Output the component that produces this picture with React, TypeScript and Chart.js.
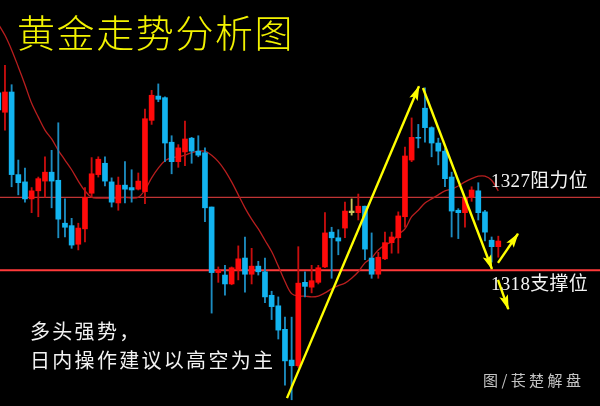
import React, { useEffect, useRef } from "react";
import { Chart, registerables } from "chart.js";

Chart.register(...registerables);

// ---- data (gold price candles) ----
const opens = [1339.9, 1337.5, 1340.0, 1329.8, 1328.9, 1326.8, 1327.8, 1329.0, 1330.1, 1329.1,
  1323.8, 1323.5, 1321.2, 1323.1, 1327.5, 1329.8, 1331.2, 1328.9, 1326.3, 1328.5,
  1328.2, 1328.0, 1327.7, 1336.5, 1339.5, 1339.3, 1333.8, 1331.4, 1332.6, 1334.3,
  1332.7, 1332.5, 1325.8, 1317.7, 1317.4, 1316.3, 1318.0, 1319.5, 1317.5, 1318.5,
  1317.8, 1314.9, 1313.6, 1310.7, 1306.9, 1306.2, 1316.5, 1315.9, 1316.5, 1318.4,
  1322.7, 1322.0, 1323.2, 1325.3, 1325.1, 1325.9, 1319.5, 1317.5, 1319.4, 1321.4,
  1322.0, 1324.6, 1331.6, 1334.4, 1338.0, 1335.6, 1333.7, 1332.7, 1329.5, 1325.4,
  1325.1, 1327.0, 1327.8, 1325.2, 1321.7, 1320.9];
const highs = [1340.5, 1343.3, 1340.9, 1331.6, 1330.6, 1328.2, 1329.5, 1332.0, 1332.8, 1336.2,
  1326.8, 1324.4, 1323.8, 1328.2, 1331.9, 1332.0, 1332.0, 1329.4, 1329.5, 1331.4,
  1330.4, 1330.0, 1337.9, 1340.2, 1341.0, 1339.4, 1334.6, 1333.5, 1336.4, 1334.4,
  1334.6, 1333.1, 1325.8, 1318.4, 1318.6, 1318.4, 1321.0, 1322.1, 1320.7, 1319.1,
  1319.5, 1315.4, 1314.7, 1312.2, 1312.2, 1320.9, 1317.8, 1318.6, 1318.6, 1325.1,
  1323.3, 1323.0, 1326.4, 1326.8, 1327.4, 1325.9, 1322.6, 1320.2, 1322.7, 1322.7,
  1325.2, 1333.2, 1336.8, 1336.0, 1340.5, 1335.7, 1334.3, 1333.0, 1330.1, 1325.6,
  1327.0, 1328.3, 1328.8, 1325.4, 1322.1, 1322.2];
const lows = [1337.2, 1335.3, 1328.3, 1327.3, 1326.4, 1325.1, 1324.6, 1327.0, 1325.7, 1322.0,
  1322.1, 1320.7, 1320.5, 1321.5, 1327.0, 1329.5, 1328.4, 1325.8, 1325.4, 1326.3,
  1326.4, 1327.9, 1326.2, 1336.0, 1338.8, 1331.4, 1329.9, 1330.7, 1330.9, 1331.2,
  1332.0, 1324.0, 1312.7, 1316.5, 1314.9, 1316.2, 1316.8, 1315.3, 1316.3, 1317.4,
  1314.0, 1311.9, 1309.5, 1303.8, 1302.0, 1306.0, 1314.7, 1315.2, 1316.3, 1318.3,
  1317.0, 1319.9, 1322.0, 1324.8, 1324.2, 1319.3, 1317.0, 1317.0, 1319.3, 1320.1,
  1320.1, 1323.3, 1331.4, 1333.1, 1333.8, 1332.0, 1331.0, 1328.3, 1322.1, 1321.9,
  1323.3, 1326.5, 1324.2, 1321.6, 1319.0, 1319.6];
const closes = [1337.8, 1340.0, 1329.8, 1328.8, 1326.8, 1327.8, 1329.3, 1330.1, 1329.0, 1324.3,
  1323.3, 1321.1, 1323.2, 1327.0, 1329.9, 1331.7, 1329.0, 1326.4, 1328.5, 1328.0,
  1327.9, 1329.0, 1336.7, 1339.6, 1339.1, 1333.7, 1331.4, 1333.1, 1334.2, 1332.7,
  1332.2, 1325.7, 1317.7, 1318.0, 1316.3, 1318.3, 1319.4, 1317.5, 1318.5, 1317.8,
  1314.7, 1313.5, 1310.6, 1306.8, 1306.2, 1316.4, 1316.0, 1316.7, 1318.3, 1322.6,
  1322.0, 1321.6, 1325.3, 1325.1, 1325.9, 1320.6, 1317.5, 1319.6, 1321.4, 1322.1,
  1324.7, 1332.1, 1334.4, 1334.3, 1335.6, 1333.7, 1332.7, 1329.3, 1325.3, 1325.1,
  1326.9, 1327.9, 1325.1, 1322.7, 1320.9, 1321.6];
// moving average line
const movingAvg = [1348.4, 1347.0, 1345.2, 1343.1, 1340.9, 1338.6, 1336.9, 1335.3, 1334.2, 1332.8,
  1331.6, 1330.4, 1329.0, 1327.8, 1327.0, 1326.9, 1326.9, 1326.9, 1326.9, 1327.0,
  1326.9, 1327.0, 1327.9, 1329.4, 1330.6, 1331.5, 1331.9, 1332.0, 1332.2, 1332.5,
  1332.7, 1332.7, 1332.2, 1331.4, 1330.3, 1328.9, 1327.3, 1325.7, 1324.3, 1323.1,
  1321.7, 1320.3, 1318.5, 1316.6, 1315.1, 1314.8, 1314.8, 1314.7, 1314.8, 1315.2,
  1315.7, 1316.1, 1316.4, 1317.0, 1317.8, 1318.9, 1319.5, 1320.5, 1321.1, 1321.5,
  1322.4, 1323.1, 1324.6, 1325.4, 1326.3, 1326.8, 1327.3, 1327.8, 1328.0, 1328.4,
  1328.9, 1329.3, 1329.6, 1329.6, 1329.1, 1327.8];
const highlightedCandles = [53];
// levels
const resistanceLevel = 1327;
const supportLevel = 1318;
// trend arrows: [x index, price]
const arrowRiseX = [43.3, 63.1];
const arrowRiseY = [1302.2, 1340.7];
const arrowFallX = [63.7, 74.05];
const arrowFallY = [1340.5, 1318.15];
const arrowBounceX = [74.95, 77.95];
const arrowBounceY = [1318.9, 1322.5];
const arrowBreakX = [74.95, 76.5];
const arrowBreakY = [1316.8, 1313.2];
// texts
const titleText = "黄金走势分析图";
const resistanceLabel = "1327阻力位";
const supportLabel = "1318支撑位";
const commentLines = ["多头强势，", "日内操作建议以高空为主"];
const sourceText = "图/苌楚解盘";

const X_MIN = 0.255;
const X_MAX = 90.255;
const Y_MIN = 1301.23;
const Y_MAX = 1351.36;

const RED = "#ff0a0a";
const BLUE = "#12b4f0";
const RED_WICK = "#c80e0e";
const BLUE_WICK = "#1c8cc0";
const OLIVE = "#c8c860";
const YELLOW = "#ffff00";

const arrowHeads = {
  id: "arrowHeads",
  afterDatasetsDraw(chart: any) {
    const ctx = chart.ctx;
    chart.data.datasets.forEach((ds: any, di: number) => {
      if (!ds.isArrow) return;
      const pts = chart.getDatasetMeta(di).data;
      if (pts.length < 2) return;
      const a = pts[pts.length - 2];
      const b = pts[pts.length - 1];
      const ang = Math.atan2(b.y - a.y, b.x - a.x);
      ctx.save();
      ctx.fillStyle = ds.borderColor;
      ctx.translate(b.x, b.y);
      ctx.rotate(ang);
      ctx.beginPath();
      ctx.moveTo(1, 0);
      ctx.lineTo(-14, -4.5);
      ctx.lineTo(-11, 0);
      ctx.lineTo(-14, 4.5);
      ctx.closePath();
      ctx.fill();
      ctx.restore();
    });
  },
};

export default function App() {
  const ref = useRef<HTMLCanvasElement | null>(null);

  useEffect(() => {
    if (!ref.current) return;
    const idx = opens.map((_, i) => i);
    const isUp = (i: number) => closes[i] >= opens[i];
    const bodyColors = idx.map((i) =>
      highlightedCandles.includes(i) ? OLIVE : isUp(i) ? RED : BLUE
    );
    const wickColors = idx.map((i) =>
      highlightedCandles.includes(i) ? OLIVE : isUp(i) ? RED_WICK : BLUE_WICK
    );
    const arrowDs = (xs: number[], ys: number[]) => ({
      type: "line" as const,
      data: xs.map((x, i) => ({ x, y: ys[i] })),
      borderColor: YELLOW,
      borderWidth: 2.4,
      pointRadius: 0,
      fill: false,
      tension: 0,
      order: 1,
      isArrow: true,
    });
    const chart = new Chart(ref.current, {
      type: "bar",
      data: {
        datasets: [
          {
            type: "line",
            data: [
              { x: X_MIN, y: resistanceLevel },
              { x: X_MAX, y: resistanceLevel },
            ],
            borderColor: "#c03434",
            borderWidth: 1.3,
            pointRadius: 0,
            order: 7,
          },
          {
            type: "line",
            data: [
              { x: X_MIN, y: supportLevel },
              { x: X_MAX, y: supportLevel },
            ],
            borderColor: "#ff3a3a",
            borderWidth: 2,
            pointRadius: 0,
            order: 7,
          },
          {
            type: "line",
            data: idx.map((i) => ({ x: i, y: movingAvg[i] })),
            borderColor: "#b81e1e",
            borderWidth: 1.3,
            pointRadius: 0,
            tension: 0.35,
            order: 6,
          },
          {
            type: "bar",
            data: idx.map((i) => ({ x: i, y: [lows[i], highs[i]] })),
            backgroundColor: wickColors,
            barThickness: 1.2,
            grouped: false,
            order: 4,
          } as any,
          {
            type: "bar",
            data: idx.map((i) => ({
              x: i,
              y: [Math.min(opens[i], closes[i]), Math.max(opens[i], closes[i])],
            })),
            backgroundColor: bodyColors,
            barThickness: 5,
            grouped: false,
            order: 3,
          } as any,
          arrowDs(arrowRiseX, arrowRiseY) as any,
          arrowDs(arrowFallX, arrowFallY) as any,
          arrowDs(arrowBounceX, arrowBounceY) as any,
          arrowDs(arrowBreakX, arrowBreakY) as any,
        ],
      },
      options: {
        animation: false,
        responsive: false,
        maintainAspectRatio: false,
        layout: { padding: 0 },
        plugins: {
          legend: { display: false },
          tooltip: { enabled: false },
          title: { display: false },
        },
        scales: {
          x: { type: "linear", min: X_MIN, max: X_MAX, display: false, offset: false },
          y: { type: "linear", min: Y_MIN, max: Y_MAX, display: false },
        },
      },
      plugins: [arrowHeads],
    } as any);
    return () => chart.destroy();
  }, []);

  const cjk = '"Noto Sans CJK SC", "Noto Sans", sans-serif';
  const serif = '"Liberation Serif", "DejaVu Serif", "Noto Sans CJK SC", serif';

  return (
    <div
      style={{
        position: "fixed",
        left: 0,
        top: 0,
        width: 600,
        height: 406,
        background: "#000",
        overflow: "hidden",
      }}
    >
      <canvas
        ref={ref}
        width={600}
        height={406}
        style={{ position: "absolute", left: 0, top: 0, width: 600, height: 406 }}
      />
      <div
        style={{
          position: "absolute",
          left: 17,
          top: 12,
          fontFamily: cjk,
          fontSize: 38,
          fontWeight: 300,
          lineHeight: 1,
          letterSpacing: 1.6,
          color: "#f2f200",
          whiteSpace: "nowrap",
        }}
      >
        {titleText}
      </div>
      <div
        style={{
          position: "absolute",
          left: 491,
          top: 171,
          fontFamily: serif,
          fontSize: 19,
          lineHeight: 1,
          letterSpacing: 0.3,
          color: "#f4f4f4",
          whiteSpace: "nowrap",
        }}
      >
        {resistanceLabel}
      </div>
      <div
        style={{
          position: "absolute",
          left: 491,
          top: 274,
          fontFamily: serif,
          fontSize: 19,
          lineHeight: 1,
          letterSpacing: 0.3,
          color: "#f4f4f4",
          whiteSpace: "nowrap",
        }}
      >
        {supportLabel}
      </div>
      <div
        style={{
          position: "absolute",
          left: 30,
          top: 316,
          fontFamily: cjk,
          fontSize: 20,
          lineHeight: "29px",
          letterSpacing: 2.3,
          color: "#f2f2f2",
          whiteSpace: "nowrap",
        }}
      >
        {commentLines.map((t, i) => (
          <div key={i}>{t}</div>
        ))}
      </div>
      <div
        style={{
          position: "absolute",
          left: 483,
          top: 372,
          fontFamily: cjk,
          fontSize: 15,
          lineHeight: 1,
          letterSpacing: 3.4,
          color: "#c4c4c4",
          whiteSpace: "nowrap",
        }}
      >
        {sourceText}
      </div>
    </div>
  );
}
